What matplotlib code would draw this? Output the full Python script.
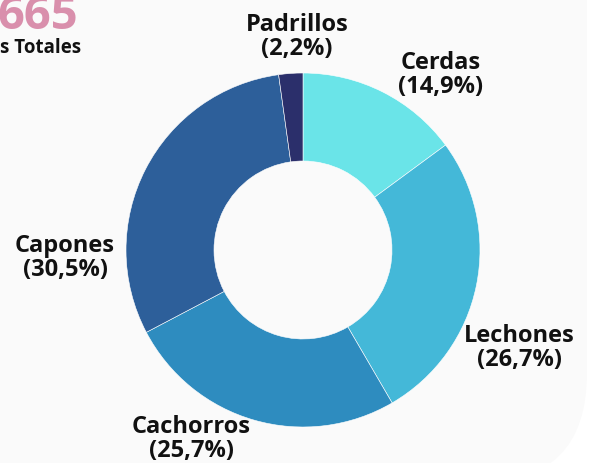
import matplotlib.pyplot as plt
from matplotlib.patches import FancyBboxPatch

plt.rcParams['font.family'] = ['Open Sans', 'DejaVu Sans']

categories = ["Cerdas", "Lechones", "Cachorros", "Capones", "Padrillos"]
values = [14.9, 26.7, 25.7, 30.5, 2.2]
colors = ["#6ae4e8", "#44b8d8", "#2e8cbf", "#2d5f9a", "#2b2f6b"]
total = "665"
total_label = "s Totales"

# label anchor points in pixels (x, y from top)
label_pos = [(441, 75), (519, 348), (191, 439), (65, 258), (297, 37)]

fig = plt.figure(figsize=(5.92, 4.64), dpi=100)
ax = fig.add_axes([0, 0, 1, 1])

bg = FancyBboxPatch((-200, -20), 787, 600, boxstyle="round,pad=0,rounding_size=110",
                    facecolor="#fafafa", edgecolor="none", zorder=0)
ax.add_patch(bg)

ax.pie(values, colors=colors, startangle=90, counterclock=False,
       center=(303, 464 - 251), radius=177, frame=True,
       wedgeprops=dict(width=88, edgecolor="white", linewidth=0.4))
ax.set_xlim(0, 592)
ax.set_ylim(0, 464)
ax.axis("off")

for name, val, (x, y) in zip(categories, values, label_pos):
    txt = f"{name}\n({val:.1f}%)".replace(".", ",")
    ax.text(x, 464 - y, txt, ha="center", va="center", fontsize=17,
            fontweight="bold", color="#111111", linespacing=1.05)

ax.text(-3, 464 - 29, total, ha="left", va="baseline", fontsize=34,
        fontweight="bold", color="#d98fac")
ax.text(0, 464 - 53, total_label, ha="left", va="baseline", fontsize=13.5,
        fontweight="bold", color="#111111")

fig.savefig("out.png", dpi=100)
